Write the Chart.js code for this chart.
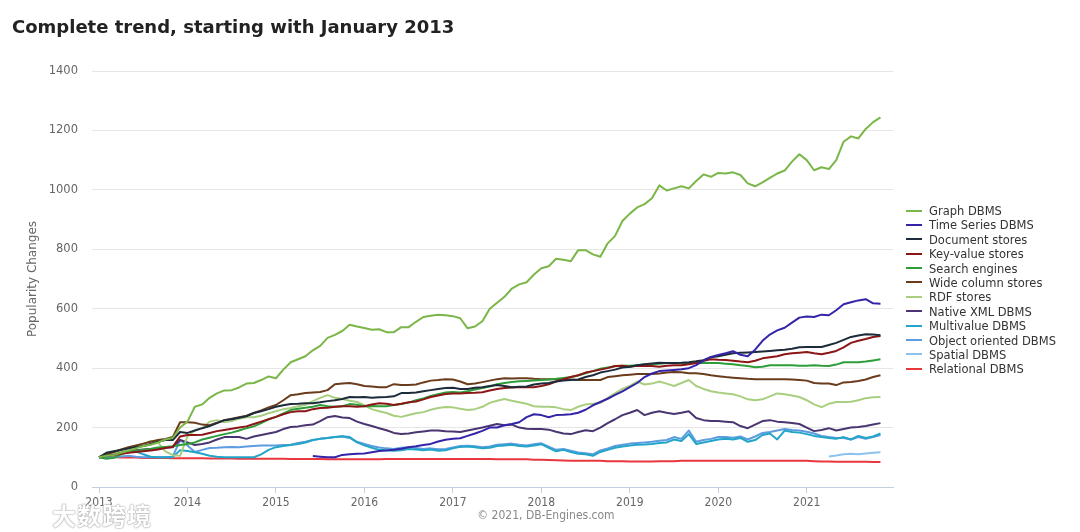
<!DOCTYPE html>
<html><head><meta charset="utf-8">
<script src="https://cdn.jsdelivr.net/npm/chart.js@4.4.0/dist/chart.umd.min.js"></script>
<style>
html,body{margin:0;padding:0;background:#fff;}
#wrap{position:relative;width:1080px;height:532px;overflow:hidden;background:#fff;}
#title{position:absolute;left:12px;top:16px;font:bold 18px 'DejaVu Sans',sans-serif;color:#222;line-height:22px;white-space:nowrap;}
#c{position:absolute;left:0;top:0;}
#legend{position:absolute;left:906px;top:204px;font:11.5px 'DejaVu Sans',sans-serif;color:#333;}
.li{height:14.4px;line-height:14.4px;white-space:nowrap;}
.sw{display:inline-block;width:16px;height:2px;vertical-align:middle;margin-right:7px;position:relative;top:-1px;}
#credit{position:absolute;left:0;width:1092px;text-align:center;top:508px;font:12px 'DejaVu Sans Condensed','DejaVu Sans',sans-serif;color:#888;}
#wm{position:absolute;left:52px;top:497px;font:bold 24px 'Noto Sans CJK SC',sans-serif;color:#fff;text-shadow:0 0 2px #999,0 0 1px #888;letter-spacing:1px;}
</style></head>
<body><div id="wrap">
<canvas id="c" width="1080" height="532"></canvas>
<div id="title">Complete trend, starting with January 2013</div>
<div id="legend"></div>
<div id="credit">© 2021, DB-Engines.com</div>
<div id="wm">大数跨境</div>
</div>
<script>
// month index 0 = January 2013
const yearTicks = [0, 12, 24, 36, 48, 60, 72, 84, 96];
const yearLabels = ['2013','2014','2015','2016','2017','2018','2019','2020','2021'];
const seriesNames = ['Graph DBMS','Time Series DBMS','Document stores','Key-value stores','Search engines','Wide column stores','RDF stores','Native XML DBMS','Multivalue DBMS','Object oriented DBMS','Spatial DBMS','Relational DBMS'];
const seriesColors = ['#7ab648','#3324a8','#1d2b3a','#8c1616','#2f9e3a','#6a3c1c','#a8cf80','#4a3570','#22a5c8','#5d9ddf','#8cc2ec','#e8373f'];

const graphDBMS = [
100,105,108,115,122,130,138,142,150,160,165,200,
220,270,278,300,315,325,326,335,348,350,360,372,
366,395,420,430,440,460,475,502,512,525,546,540,
535,529,531,521,521,538,538,556,572,576,580,578,
575,568,534,540,558,600,620,640,668,682,689,715,
736,743,768,765,760,797,797,783,775,820,845,895,
920,941,952,972,1015,998,1005,1012,1005,1030,1052,1044,
1057,1055,1059,1050,1022,1012,1025,1040,1055,1065,1095,1120,
1100,1066,1076,1070,1100,1162,1180,1173,1205,1228,1244];
const timeSeriesStart = 29;
const timeSeriesDBMS = [
104,102,100,100,108,110,112,
113,117,121,123,125,129,134,137,141,145,153,159,
162,164,172,180,189,200,200,208,212,218,235,245,
242,235,242,243,245,250,260,275,286,297,310,322,
336,350,370,382,390,392,394,396,400,410,425,438,
444,450,457,445,440,462,492,513,527,536,553,570,
574,572,580,578,595,615,622,628,632,618,617];
const documentStores = [
100,115,120,125,130,135,138,145,152,158,158,185,
182,190,198,205,215,225,228,233,238,249,255,262,
270,275,279,280,282,282,285,289,292,296,303,302,
303,300,302,303,305,316,316,318,322,326,330,333,
334,330,330,334,336,340,343,340,336,337,338,345,
348,350,355,358,360,362,370,376,385,390,395,402,
405,410,413,416,418,417,417,418,420,423,427,437,
440,445,450,452,453,454,456,458,460,462,465,470,
471,471,471,478,485,495,505,510,514,513,511];
const keyValueStores = [
100,105,108,112,115,118,120,123,126,131,135,170,
175,175,176,182,188,192,196,200,204,212,220,228,
236,245,252,255,255,262,266,267,270,272,272,270,
272,278,282,280,276,280,285,288,295,303,308,313,
315,315,316,317,319,325,330,333,335,336,336,336,
340,346,355,363,370,376,385,390,395,400,407,408,
405,408,407,407,405,408,410,410,413,417,425,430,
428,427,425,422,420,425,433,437,440,447,450,452,
454,450,447,452,458,470,485,492,498,505,508];
const searchEngines = [
100,95,98,110,118,122,125,128,133,135,137,141,
145,150,160,166,172,178,183,190,198,204,215,228,
236,248,259,263,267,270,276,272,270,272,279,277,
272,273,272,272,276,279,284,292,298,306,312,318,
320,318,322,328,333,338,346,350,353,356,357,358,
360,362,364,367,370,375,383,390,398,402,406,408,
408,410,412,413,415,417,417,417,416,417,418,417,
417,415,413,410,407,403,405,410,410,410,410,408,
408,410,408,407,412,420,420,420,422,426,430];
const wideColumnStores = [
100,110,118,126,134,140,146,152,158,162,168,218,
218,216,210,208,216,225,230,235,240,249,258,268,
276,292,309,312,316,318,320,326,346,348,350,346,
340,338,336,336,346,343,343,345,352,358,360,363,
362,355,346,348,353,358,363,366,365,366,366,364,
363,363,363,362,362,360,360,360,360,370,373,376,
378,380,380,380,382,385,387,386,383,383,380,376,
373,370,368,366,364,363,363,363,363,363,362,360,
358,350,348,348,343,352,353,357,362,370,376];
const rdfStores = [
100,108,115,122,128,135,145,155,150,120,107,105,
170,190,198,220,225,218,222,230,235,235,240,248,
255,262,266,272,276,289,300,309,300,296,290,286,
275,262,255,249,240,236,242,248,252,260,266,269,
268,263,259,262,270,283,290,296,290,285,280,272,
270,270,268,262,259,270,278,280,283,300,315,330,
340,355,345,348,355,348,340,350,360,340,330,322,
318,315,312,305,295,292,295,305,315,312,308,303,
292,278,269,280,286,286,287,292,299,302,303];
const nativeXML = [
100,108,114,118,122,124,126,128,130,132,134,158,
150,141,145,150,160,168,168,168,162,170,175,180,
185,195,202,204,208,210,222,235,239,234,232,220,
212,205,198,191,182,178,180,184,187,190,190,188,
187,185,190,195,200,206,212,208,210,200,196,195,
195,193,186,180,178,185,191,188,200,215,228,242,
250,259,242,250,255,250,246,250,255,232,225,222,
222,220,218,205,198,210,222,225,220,218,215,212,
200,188,192,198,190,195,200,202,205,210,215];
const multivalue = [
100,102,108,115,131,120,110,102,100,100,100,124,
121,117,112,105,102,100,100,100,100,100,110,125,
134,138,141,145,150,158,162,165,168,171,168,150,
140,132,125,124,122,124,128,126,124,126,122,124,
130,135,136,134,130,132,138,140,142,138,136,140,
144,132,120,125,118,112,110,105,118,125,132,136,
140,142,143,145,148,150,160,155,178,145,150,155,
160,162,160,165,152,158,175,180,160,190,185,183,
178,172,168,165,162,168,160,172,165,170,180];
const objectOriented = [
100,98,100,103,105,102,100,101,100,100,102,158,
140,118,125,131,132,134,135,134,136,138,140,140,
140,141,142,148,152,158,162,165,168,170,165,152,
145,138,133,130,128,132,134,131,128,130,127,128,
133,138,139,137,134,136,142,144,146,142,140,144,
147,136,125,128,122,116,114,110,123,130,138,142,
146,148,150,152,156,158,168,162,190,152,158,162,
168,168,166,170,160,170,182,185,190,195,192,190,
186,180,172,168,165,165,160,168,162,168,175];
const spatialStart = 99;
const spatialDBMS = [103,106,110,112,110,113,115,117];
const relationalDBMS = [
100,100,100,99,99,99,98,98,98,98,97,97,
97,97,97,96,96,96,96,95,95,95,95,95,
95,95,94,94,94,94,94,93,93,93,93,93,
93,93,93,94,94,94,94,94,94,94,94,94,
94,94,94,94,94,94,93,93,93,93,93,92,
92,91,90,89,88,88,88,88,88,87,87,87,
86,86,86,86,87,87,87,88,88,88,88,88,
88,88,88,88,88,88,88,88,88,88,88,88,
88,87,86,86,85,85,85,85,85,84,84];

const seriesValues = [graphDBMS,timeSeriesDBMS,documentStores,keyValueStores,searchEngines,wideColumnStores,rdfStores,nativeXML,multivalue,objectOriented,spatialDBMS,relationalDBMS];
const seriesStarts = [0,timeSeriesStart,0,0,0,0,0,0,0,0,spatialStart,0];

function toPoints(vals, start){ return vals.map((v,k)=>({x:start+k, y:v})); }

const datasets = seriesNames.map((name,i)=>({
  label:name,
  data:toPoints(seriesValues[i], seriesStarts[i]),
  borderColor:seriesColors[i],
  backgroundColor:seriesColors[i],
  borderWidth:2,
  pointRadius:0,
  tension:0,
  fill:false,
  borderJoinStyle:'round'
}));

// legend
const lg = document.getElementById('legend');
seriesNames.forEach((n,i)=>{
  const d=document.createElement('div'); d.className='li';
  d.innerHTML='<span class="sw" style="background:'+seriesColors[i]+'"></span>'+n;
  lg.appendChild(d);
});

Chart.defaults.font.family = "'DejaVu Sans', sans-serif";
new Chart(document.getElementById('c'), {
  type:'line',
  data:{datasets},
  options:{
    responsive:false,
    animation:false,
    events:[],
    layout:{padding:{left:0,right:187,top:71,bottom:0}},
    plugins:{legend:{display:false},tooltip:{enabled:false}},
    scales:{
      x:{
        type:'linear', min:-0.95, max:107.7,
        afterBuildTicks:(s)=>{ s.ticks = yearTicks.map(v=>({value:v})); },
        afterFit:(s)=>{ s.height = 45; },
        ticks:{
          autoSkip:false, maxRotation:0, color:'#666', padding:3,
          font:{size:12, family:"'DejaVu Sans Condensed','DejaVu Sans',sans-serif"},
          callback:(v)=>{ const k=yearTicks.indexOf(v); return k>=0?yearLabels[k]:''; }
        },
        grid:{drawOnChartArea:false, drawTicks:true, tickLength:6, color:'#c0d0e0'},
        border:{display:true, color:'#c0d0e0', width:1}
      },
      y:{
        min:0, max:1400,
        afterFit:(s)=>{ s.width = 92; },
        ticks:{stepSize:200, color:'#666', padding:14, font:{size:11.5}, callback:(v)=>String(v)},
        grid:{color:'#e6e6e6', drawTicks:false, lineWidth:1},
        border:{display:false},
        title:{display:true, text:'Popularity Changes', color:'#666', font:{size:12}, padding:{top:26,bottom:0}}
      }
    }
  }
});
</script>
</body></html>
